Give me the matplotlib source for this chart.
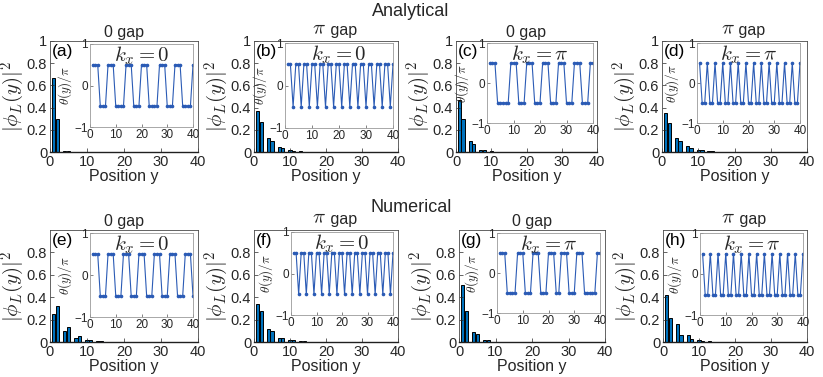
import matplotlib
matplotlib.use("Agg")
import matplotlib.pyplot as plt
import numpy as np

plt.rcParams['font.family'] = ['Liberation Sans', 'DejaVu Sans']
plt.rcParams['mathtext.fontset'] = 'cm'

positions = list(range(1, 41))
xticks = [0, 10, 20, 30, 40]

# |phi_L(y)|^2 for each panel (y = 1..40)
bars_a = [0.67, 0.30, 0, 0.012, 0.012, 0, 0.001, 0.001, 0, 0, 0, 0, 0, 0, 0, 0, 0, 0, 0, 0,
          0, 0, 0, 0, 0, 0, 0, 0, 0, 0, 0, 0, 0, 0, 0, 0, 0, 0, 0, 0]
bars_b = [0.37, 0.27, 0, 0.13, 0.10, 0, 0.045, 0.04, 0, 0.015, 0.013, 0, 0.005, 0.004, 0, 0.002, 0.0015, 0, 0.001, 0.001,
          0, 0, 0, 0, 0, 0, 0, 0, 0, 0, 0, 0, 0, 0, 0, 0, 0, 0, 0, 0]
bars_c = [0.47, 0.30, 0, 0.10, 0.07, 0, 0.02, 0.02, 0, 0.005, 0.004, 0, 0.001, 0.001, 0, 0, 0, 0, 0, 0,
          0, 0, 0, 0, 0, 0, 0, 0, 0, 0, 0, 0, 0, 0, 0, 0, 0, 0, 0, 0]
bars_d = [0.35, 0.26, 0, 0.13, 0.10, 0, 0.05, 0.04, 0, 0.017, 0.015, 0, 0.006, 0.005, 0, 0.002, 0.002, 0, 0.001, 0.001,
          0, 0, 0, 0, 0, 0, 0, 0, 0, 0, 0, 0, 0, 0, 0, 0, 0, 0, 0, 0]
bars_e = [0.25, 0.32, 0, 0.10, 0.13, 0, 0.04, 0.055, 0, 0.015, 0.02, 0, 0.006, 0.008, 0, 0.002, 0.003, 0, 0.001, 0.001,
          0, 0, 0, 0, 0, 0, 0, 0, 0, 0, 0, 0, 0, 0, 0, 0, 0, 0, 0, 0]
bars_f = [0.34, 0.28, 0, 0.12, 0.10, 0, 0.04, 0.04, 0, 0.015, 0.014, 0, 0.005, 0.005, 0, 0.002, 0.002, 0, 0.001, 0.001,
          0, 0, 0, 0, 0, 0, 0, 0, 0, 0, 0, 0, 0, 0, 0, 0, 0, 0, 0, 0]
bars_g = [0.51, 0.28, 0, 0.09, 0.07, 0, 0.015, 0.015, 0, 0.003, 0.003, 0, 0.001, 0, 0, 0, 0, 0, 0, 0,
          0, 0, 0, 0, 0, 0, 0, 0, 0, 0, 0, 0, 0, 0, 0, 0, 0, 0, 0, 0]
bars_h = [0.42, 0.21, 0, 0.16, 0.06, 0, 0.06, 0.025, 0, 0.02, 0.01, 0, 0.008, 0.003, 0, 0.003, 0.001, 0, 0.001, 0,
          0, 0, 0, 0, 0, 0, 0, 0, 0, 0, 0, 0, 0, 0, 0, 0, 0, 0, 0, 0]

# theta(y)/pi for each inset (y = 1..40)
theta_a = [0.5, 0.5, 0.5, -0.5, -0.5, -0.5, 0.5, 0.5, 0.5, -0.5, -0.5, -0.5, -0.5, 0.5, 0.5, 0.5, -0.5, -0.5, -0.5, 0.5,
           0.5, 0.5, -0.5, -0.5, -0.5, -0.5, 0.5, 0.5, 0.5, -0.5, -0.5, -0.5, 0.5, 0.5, 0.5, -0.5, -0.5, -0.5, -0.5, 0.5]
theta_b = [0.5, 0.5, -0.5, 0.5, 0.5, -0.5, 0.5, 0.5, -0.5, 0.5, 0.5, -0.5, 0.5, 0.5, -0.5, 0.5, 0.5, -0.5, 0.5, 0.5,
           -0.5, 0.5, 0.5, -0.5, 0.5, 0.5, -0.5, 0.5, 0.5, -0.5, 0.5, 0.5, -0.5, 0.5, 0.5, -0.5, 0.5, 0.5, -0.5, 0.5]
theta_c = [0.5, 0.5, 0.5, -0.5, -0.5, -0.5, -0.5, -0.5, 0.5, 0.5, 0.5, -0.5, -0.5, -0.5, 0.5, 0.5, 0.5, -0.5, -0.5, -0.5,
           0.5, 0.5, 0.5, -0.5, -0.5, -0.5, 0.5, 0.5, 0.5, -0.5, -0.5, -0.5, 0.5, 0.5, 0.5, -0.5, -0.5, -0.5, 0.5, 0.5]
theta_d = [0.5, -0.5, -0.5, 0.5, -0.5, -0.5, 0.5, -0.5, -0.5, 0.5, -0.5, -0.5, 0.5, -0.5, -0.5, 0.5, -0.5, -0.5, 0.5, -0.5,
           -0.5, 0.5, -0.5, -0.5, 0.5, -0.5, -0.5, 0.5, -0.5, -0.5, 0.5, -0.5, -0.5, 0.5, -0.5, -0.5, 0.5, -0.5, -0.5, 0.5]
theta_e = [0.5, 0.5, 0.5, -0.5, -0.5, -0.5, 0.5, 0.5, 0.5, -0.5, -0.5, -0.5, 0.5, 0.5, 0.5, -0.5, -0.5, -0.5, 0.5, 0.5,
           0.5, -0.5, -0.5, -0.5, 0.5, 0.5, 0.5, -0.5, -0.5, -0.5, 0.5, 0.5, 0.5, -0.5, -0.5, -0.5, 0.5, 0.5, 0.5, -0.5]
theta_f = [0.5, 0.5, -0.5, 0.5, 0.5, -0.5, 0.5, 0.5, -0.5, 0.5, 0.5, -0.5, 0.5, 0.5, -0.5, 0.5, 0.5, -0.5, 0.5, 0.5,
           -0.5, 0.5, 0.5, -0.5, 0.5, 0.5, -0.5, 0.5, 0.5, -0.5, 0.5, 0.5, -0.5, 0.5, 0.5, -0.5, 0.5, 0.5, -0.5, 0.5]
theta_g = [0.5, 0.5, 0.5, -0.5, -0.5, -0.5, -0.5, 0.5, 0.5, 0.5, -0.5, -0.5, -0.5, 0.5, 0.5, 0.5, -0.5, -0.5, -0.5, 0.5,
           0.5, 0.5, -0.5, -0.5, 0.5, 0.5, 0.5, -0.5, -0.5, -0.5, 0.5, 0.5, 0.5, -0.5, -0.5, -0.5, -0.5, -0.5, 0.5, 0.5]
theta_h = [0.5, -0.5, -0.5, 0.5, -0.5, -0.5, 0.5, -0.5, -0.5, 0.5, -0.5, -0.5, 0.5, -0.5, -0.5, 0.5, -0.5, -0.5, 0.5, -0.5,
           -0.5, 0.5, -0.5, -0.5, 0.5, -0.5, -0.5, 0.5, -0.5, -0.5, 0.5, -0.5, -0.5, 0.5, -0.5, -0.5, 0.5, -0.5, -0.5, 0.5]

labels = ['(a)', '(b)', '(c)', '(d)', '(e)', '(f)', '(g)', '(h)']
gap_names = ['0', r'$\pi$', '0', r'$\pi$', '0', r'$\pi$', '0', r'$\pi$']
kx_texts = [r'$k_x=0$', r'$k_x=0$', r'$k_x=\pi$', r'$k_x=\pi$',
            r'$k_x=0$', r'$k_x=0$', r'$k_x=\pi$', r'$k_x=\pi$']
bars_all = [bars_a, bars_b, bars_c, bars_d, bars_e, bars_f, bars_g, bars_h]
theta_all = [theta_a, theta_b, theta_c, theta_d, theta_e, theta_f, theta_g, theta_h]

W, H = 823, 377
fig = plt.figure(figsize=(W / 100, H / 100), dpi=100)

# main axes pixel boxes (left, top, right, bottom)
main_boxes = [(50, 41, 198, 152), (254, 41, 398, 152), (456, 41, 597, 152), (662, 41, 807, 152),
              (50, 230, 198, 342), (254, 230, 398, 342), (459, 230, 605, 342), (663, 230, 807, 342)]
inset_boxes = [(90, 44, 193, 127), (285, 43, 393, 128), (487, 43, 593, 123), (697, 43, 800, 123),
               (90, 233, 193, 317), (291, 232, 393, 315), (497, 233, 600, 313), (700, 233, 803, 315)]


def to_fig(box):
    l, t, r, b = box
    return [l / W, 1 - b / H, (r - l) / W, (b - t) / H]


txt = '#262626'
edge = '#4a4a4a'
for i in range(8):
    ax = fig.add_axes(to_fig(main_boxes[i]))
    ax.bar(positions, bars_all[i], width=0.9, color='#0072BD', edgecolor='black', linewidth=0.7)
    ax.set_xlim(0, 40)
    ax.set_ylim(0, 1)
    ax.set_xticks(xticks)
    if i < 4:
        ax.set_yticks([0, 0.2, 0.4, 0.6, 0.8, 1])
        ax.set_yticklabels(['0', '0.2', '0.4', '0.6', '0.8', '1'])
    else:
        ax.set_yticks([0, 0.2, 0.4, 0.6, 0.8])
        ax.set_yticklabels(['0', '0.2', '0.4', '0.6', '0.8'])
    ax.tick_params(direction='in', labelsize=10.5, colors=txt, length=3, width=0.5, pad=2)
    for s in ax.spines.values():
        s.set_color(edge)
        s.set_linewidth(0.6)
    ax.spines['bottom'].set_color('#202020')
    ax.spines['bottom'].set_linewidth(1.0)
    ax.set_xlabel('Position y', fontsize=11.5, color=txt, labelpad=0)
    ax.set_ylabel(r'$|\phi_L(y)|^2$', fontsize=15, color=txt, labelpad=0)
    if gap_names[i] == '0':
        ax.set_title('0 gap', fontsize=11.5, color=txt, pad=3)
    else:
        ax.text(0.5, 1.02, r'$\pi$', transform=ax.transAxes, fontsize=15, ha='right',
                va='bottom', color=txt)
        ax.text(0.5, 1.025, ' gap', transform=ax.transAxes, fontsize=11.5, ha='left',
                va='bottom', color=txt)
    ax.text(0.015, 0.975, labels[i], transform=ax.transAxes, fontsize=12.5, va='top', ha='left', color='black')

    ins = fig.add_axes(to_fig(inset_boxes[i]))
    ins.plot(positions, theta_all[i], color='#2B5BB5', lw=0.8, marker='o', ms=1.6)
    ins.set_xlim(0, 40)
    ins.set_ylim(-1, 1)
    ins.set_xticks(xticks)
    ins.set_yticks([-1, 0, 1])
    ins.tick_params(direction='in', labelsize=8.5, colors=txt, length=2, width=0.4, pad=1.5)
    for s in ins.spines.values():
        s.set_color('#9a9a9a')
        s.set_linewidth(0.6)
    ins.set_ylabel(r'$\theta(y)/\pi$', fontsize=9.5, color=txt, labelpad=0)
    ins.text(0.5, 1.0, kx_texts[i], transform=ins.transAxes, fontsize=15, ha='center', va='top', color=txt)

fig.text(411 / W, 1 - 12 / H, 'Analytical', fontsize=13, ha='center', va='center', color=txt)
fig.text(411 / W, 1 - 207 / H, 'Numerical', fontsize=13, ha='center', va='center', color=txt)

fig.savefig('out.png', dpi=100)
